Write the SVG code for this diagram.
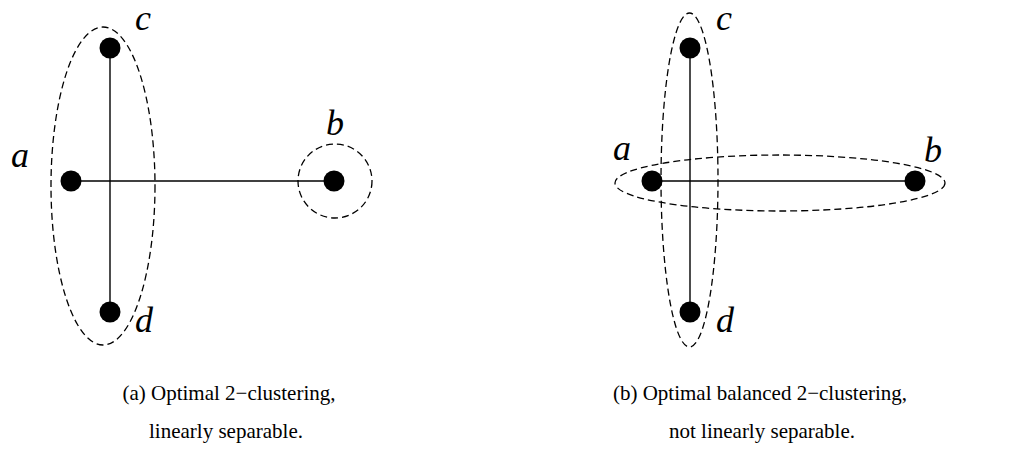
<svg xmlns="http://www.w3.org/2000/svg" width="1023" height="464" viewBox="0 0 1023 464">
<style>
.edge{stroke:#000;stroke-width:1.4;fill:none}
.clu{stroke:#000;stroke-width:1.3;fill:none;stroke-dasharray:7 4}
.dot{fill:#000}
.lbl{font-family:"Liberation Serif",serif;font-style:italic;font-size:36px;fill:#000}
.cap{font-family:"Liberation Serif",serif;font-size:21px;fill:#000;text-anchor:middle}
</style>
<rect width="1023" height="464" fill="#fff"/>
<g id="connectors">
<line class="edge" x1="110" y1="48" x2="110" y2="312"/>
<line class="edge" x1="71" y1="181" x2="334" y2="181"/>
<line class="edge" x1="690" y1="48" x2="690" y2="312"/>
<line class="edge" x1="652" y1="181" x2="915" y2="181"/>
</g>
<g id="clusters">
<ellipse id="cluster-a-acd" class="clu" cx="103" cy="186" rx="52" ry="159"/>
<circle id="cluster-a-b" class="clu" cx="335" cy="181" r="37"/>
<ellipse id="cluster-b-cd" class="clu" cx="689.5" cy="180" rx="28.5" ry="167"/>
<ellipse id="cluster-b-ab" class="clu" cx="780" cy="183" rx="165" ry="28"/>
</g>
<g id="node-a1"><circle class="dot" cx="71" cy="181" r="10.5"/><text class="lbl" x="11" y="167">a</text></g>
<g id="node-b1"><circle class="dot" cx="334" cy="181" r="10.5"/><text class="lbl" x="326" y="135">b</text></g>
<g id="node-c1"><circle class="dot" cx="110" cy="48" r="10.5"/><text class="lbl" x="135" y="30">c</text></g>
<g id="node-d1"><circle class="dot" cx="110" cy="312" r="10.5"/><text class="lbl" x="135" y="332">d</text></g>
<g id="node-a2"><circle class="dot" cx="652" cy="181" r="10.5"/><text class="lbl" x="613" y="160">a</text></g>
<g id="node-b2"><circle class="dot" cx="915" cy="181" r="10.5"/><text class="lbl" x="924" y="162">b</text></g>
<g id="node-c2"><circle class="dot" cx="690" cy="48" r="10.5"/><text class="lbl" x="716" y="30">c</text></g>
<g id="node-d2"><circle class="dot" cx="690" cy="312" r="10.5"/><text class="lbl" x="716" y="332">d</text></g>
<g id="captions">
<text class="cap" x="229" y="400">(a) Optimal 2−clustering,</text>
<text class="cap" x="226" y="438">linearly separable.</text>
<text class="cap" x="760" y="400">(b) Optimal balanced 2−clustering,</text>
<text class="cap" x="762" y="438">not linearly separable.</text>
</g>
</svg>
